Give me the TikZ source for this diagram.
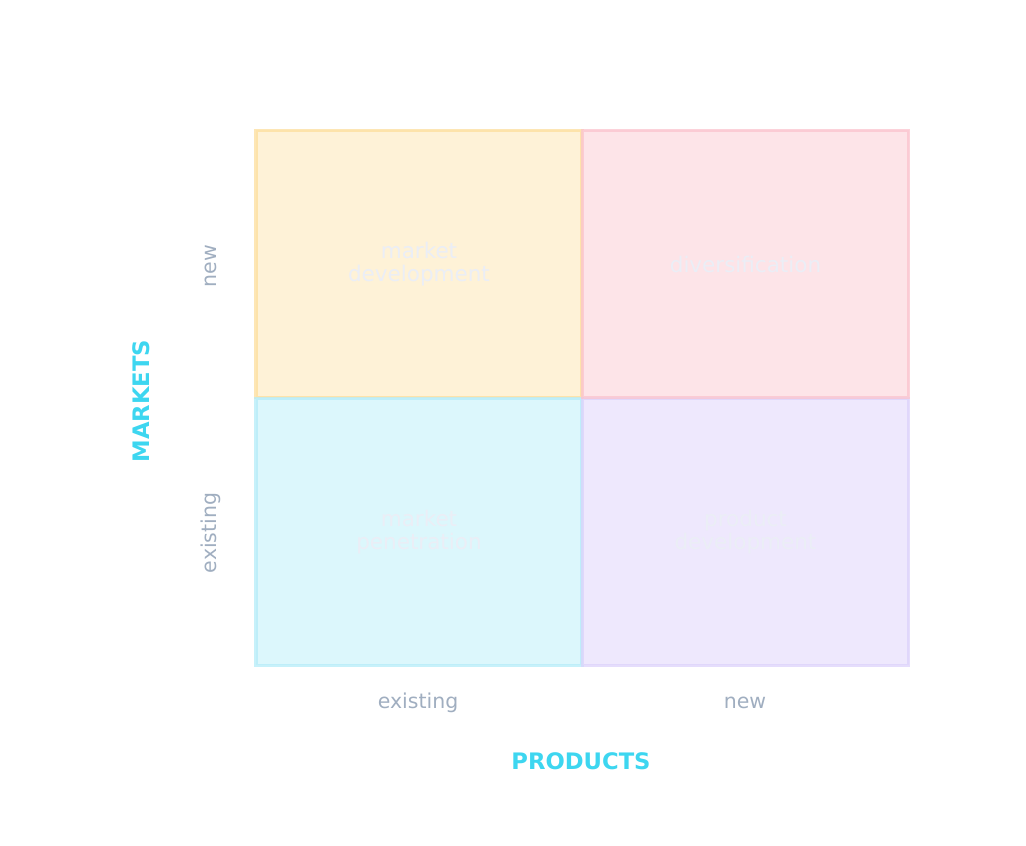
\documentclass[tikz,border=0pt]{standalone}
\usepackage{fontspec}
\setmainfont{DejaVu Sans}
\definecolor{devfill}{HTML}{FEF2D7}
\definecolor{devline}{HTML}{FDDE9C}
\definecolor{divfill}{HTML}{FDE4E8}
\definecolor{divline}{HTML}{FBC3CE}
\definecolor{penfill}{HTML}{DCF7FC}
\definecolor{penline}{HTML}{B4ECF8}
\definecolor{prodfill}{HTML}{EEE8FD}
\definecolor{prodline}{HTML}{DCD2FB}
\definecolor{quadtext}{HTML}{EBEEF6}
\definecolor{ticktext}{HTML}{A0AEC0}
\definecolor{axistext}{HTML}{3DD6F0}
\tikzset{
    quad/.style={rectangle, draw, line width=3.5pt, draw opacity=0.75, minimum width=326pt, minimum height=267pt, align=center, text=quadtext, font=\fontsize{21.5}{23.5}\selectfont},
    tick/.style={text=ticktext, font=\fontsize{20.5}{24}\selectfont},
    axis/.style={text=axistext, font=\fontsize{22.7}{26}\selectfont\bfseries}
}
\begin{document}
\begin{tikzpicture}[x=1pt, y=1pt]
    \useasboundingbox (0,0) rectangle (1026,846);
    \node[quad, fill=devfill, draw=devline] (MD) at (419,582) {market\\development};
    \node[quad, fill=penfill, draw=penline] (MP) at (419,314) {market\\penetration};
    \node[quad, fill=prodfill, draw=prodline] (PD) at (745.5,314) {product\\development};
    \node[quad, fill=divfill, draw=divline] (DV) at (745.5,582) {diversification};
    \node[tick, rotate=90] (MN) at (211,580) {new};  % markets, new
    \node[tick, rotate=90] (ME) at (211,313) {existing};  % markets, existing
    \node[axis, rotate=90] (M) at (141,445) {MARKETS};
    \node[tick] (PE) at (418,143) {existing};  % products, existing
    \node[tick] (PN) at (745,143) {new};  % products, new
    \node[axis] (P) at (581,85) {PRODUCTS};
\end{tikzpicture}
\end{document}
